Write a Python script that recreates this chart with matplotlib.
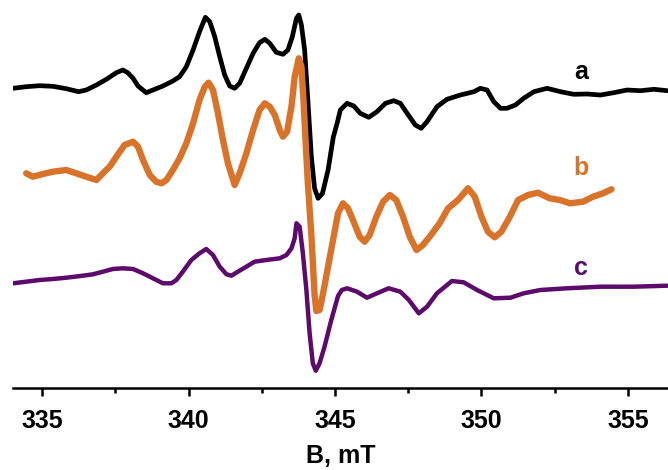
import numpy as np
import matplotlib
matplotlib.use("Agg")
import matplotlib.pyplot as plt
from matplotlib.ticker import MultipleLocator

plt.rcParams['font.family'] = ['Liberation Sans', 'DejaVu Sans']
plt.rcParams['font.weight'] = 'bold'

# =========================
# Spectra: (B in mT, intensity in arbitrary units, baseline ~ 0)
# =========================
spec_a = [
    (334.00, 0.17), (334.45, 0.33), (334.91, 0.43), (335.36, 0.37), (335.82, 0.13),
    (336.24, -0.17), (336.50, 0.00), (336.85, 0.50), (337.19, 1.07), (337.53, 1.73),
    (337.75, 2.00), (337.92, 1.73), (338.10, 1.17), (338.27, 0.40), (338.55, -0.27),
    (338.84, 0.07), (339.12, 0.40), (339.46, 0.90), (339.69, 1.33), (339.92, 2.33),
    (340.15, 4.00), (340.37, 5.83), (340.57, 7.27), (340.72, 6.83), (340.89, 5.33),
    (341.06, 3.33), (341.23, 1.50), (341.40, 0.40), (341.57, 0.17), (341.74, 0.67),
    (341.97, 2.17), (342.20, 3.67), (342.42, 4.73), (342.60, 5.07), (342.77, 4.67),
    (342.99, 3.77), (343.22, 3.57), (343.39, 4.00), (343.54, 5.33), (343.68, 7.17),
    (343.76, 7.50), (343.85, 6.50), (343.96, 4.00), (344.07, -1.00), (344.19, -6.67),
    (344.30, -9.83), (344.42, -10.83), (344.57, -10.33), (344.76, -8.00), (344.94, -4.70),
    (345.07, -3.33), (345.18, -2.00), (345.41, -1.33), (345.64, -1.60), (345.86, -2.33),
    (346.15, -2.73), (346.43, -2.17), (346.72, -1.33), (347.00, -1.07), (347.23, -1.33),
    (347.46, -2.33), (347.74, -3.50), (347.94, -3.83), (348.14, -3.17), (348.48, -1.67),
    (348.82, -0.93), (349.28, -0.50), (349.74, -0.17), (349.96, 0.17), (350.19, 0.00),
    (350.42, -1.17), (350.65, -1.83), (350.87, -1.83), (351.16, -1.50), (351.44, -0.83),
    (351.79, -0.17), (352.24, 0.17), (352.70, -0.17), (353.15, -0.43), (353.61, -0.40),
    (354.06, -0.50), (354.52, -0.27), (354.97, 0.00), (355.43, -0.07), (355.89, 0.07),
    (356.34, -0.07),
]

spec_b = [
    (334.45, 0.17), (334.68, -0.17), (335.02, 0.10), (335.36, 0.33), (335.82, 0.50),
    (336.16, 0.17), (336.50, -0.17), (336.85, -0.50), (337.07, 0.17), (337.30, 0.83),
    (337.53, 1.83), (337.81, 3.00), (338.10, 3.33), (338.27, 2.83), (338.44, 1.50),
    (338.67, 0.00), (338.89, -0.67), (339.07, -0.83), (339.24, -0.50), (339.46, 0.50),
    (339.69, 1.67), (339.92, 3.17), (340.15, 5.17), (340.37, 7.50), (340.55, 8.83),
    (340.68, 9.23), (340.83, 8.50), (341.00, 6.17), (341.17, 3.50), (341.34, 1.17),
    (341.57, -1.00), (341.74, 0.17), (341.97, 2.17), (342.20, 4.50), (342.42, 6.50),
    (342.60, 7.17), (342.77, 6.83), (342.94, 6.00), (343.11, 4.50), (343.22, 3.83),
    (343.36, 4.33), (343.51, 6.83), (343.62, 9.83), (343.76, 11.67), (343.85, 10.83),
    (343.93, 7.00), (343.99, 3.50), (344.07, -0.80), (344.19, -6.00), (344.30, -12.00),
    (344.36, -13.60), (344.47, -13.50), (344.59, -11.83), (344.76, -9.17), (344.93, -6.50),
    (345.10, -3.83), (345.27, -2.83), (345.44, -3.33), (345.61, -4.50), (345.84, -6.17),
    (346.01, -6.67), (346.18, -6.00), (346.41, -4.17), (346.64, -2.67), (346.87, -2.00),
    (347.09, -2.50), (347.32, -4.17), (347.55, -6.17), (347.78, -7.50), (348.00, -7.00),
    (348.23, -6.17), (348.57, -4.83), (348.86, -3.33), (349.20, -2.50), (349.54, -1.33),
    (349.77, -2.17), (350.00, -4.17), (350.22, -5.67), (350.45, -6.23), (350.68, -5.67),
    (350.97, -4.17), (351.25, -2.50), (351.59, -2.00), (351.93, -1.77), (352.33, -2.33),
    (352.67, -2.50), (353.02, -2.83), (353.47, -2.67), (353.81, -2.17), (354.15, -1.83),
    (354.44, -1.43),
]

spec_c = [
    (334.00, 0.17), (334.45, 0.33), (334.91, 0.50), (335.36, 0.60), (335.82, 0.73),
    (336.39, 0.93), (336.73, 1.07), (337.07, 1.33), (337.41, 1.60), (337.75, 1.67),
    (338.10, 1.60), (338.44, 1.17), (338.78, 0.67), (339.12, 0.17), (339.41, 0.17),
    (339.58, 0.50), (339.80, 1.33), (340.09, 2.50), (340.37, 3.17), (340.60, 3.60),
    (340.83, 3.00), (341.06, 1.83), (341.29, 1.07), (341.46, 0.93), (341.68, 1.33),
    (341.97, 1.83), (342.25, 2.33), (342.65, 2.50), (343.11, 2.67), (343.34, 3.00),
    (343.51, 3.67), (343.62, 4.67), (343.68, 6.17), (343.79, 5.83), (343.90, 3.17),
    (344.02, -0.50), (344.13, -4.83), (344.24, -7.83), (344.34, -8.57), (344.47, -7.83),
    (344.64, -6.17), (344.87, -3.50), (344.95, -2.67), (345.10, -1.10), (345.23, -0.50),
    (345.41, -0.33), (345.75, -0.67), (346.09, -1.27), (346.43, -0.83), (346.83, -0.33),
    (347.23, -0.67), (347.52, -1.50), (347.86, -2.83), (348.14, -2.17), (348.48, -0.83),
    (348.99, 0.40), (349.39, 0.27), (349.85, -0.50), (350.42, -1.33), (350.99, -1.27),
    (351.44, -0.83), (352.01, -0.50), (352.92, -0.33), (354.06, -0.17), (355.20, -0.17),
    (356.34, -0.07),
]

labels   = ['a', 'b', 'c']
offsets  = [29.8, 21.3, 10.3]
colors   = ['black', '#d9732a', '#5c0a6c']
widths   = [3.4, 4.6, 3.2]
label_B  = 353.4
label_dy = [1.8, 0.7, 1.7]

fig = plt.figure(figsize=(6.68, 4.70), dpi=100)
ax = fig.add_axes([13/668, 82/470, 655/668, 388/470])

for spec, lab, off, col, lw, dy in zip([spec_a, spec_b, spec_c], labels, offsets, colors, widths, label_dy):
    B, I = np.array(spec).T
    ax.plot(B, I + off, color=col, linewidth=lw, solid_joinstyle='round', solid_capstyle='round')
    ax.text(label_B, off + dy, lab, color=col, fontsize=18, fontweight='bold', ha='center', va='center')

ax.set_xlim(334.0, 356.37)
ax.set_ylim(0, 38.8)

for s in ['top', 'right', 'left']:
    ax.spines[s].set_visible(False)
ax.spines['bottom'].set_linewidth(1.8)
ax.set_yticks([])

ax.xaxis.set_major_locator(MultipleLocator(5))
ax.xaxis.set_minor_locator(MultipleLocator(2.5))
ax.tick_params(axis='x', which='major', length=6, width=1.8, pad=9, labelsize=18)
ax.tick_params(axis='x', which='minor', length=3.5, width=1.8)
for t in ax.get_xticklabels():
    t.set_fontweight('bold')

ax.set_xlabel('B, mT', fontsize=18, fontweight='bold', labelpad=8)

fig.savefig('out.png', dpi=100)
